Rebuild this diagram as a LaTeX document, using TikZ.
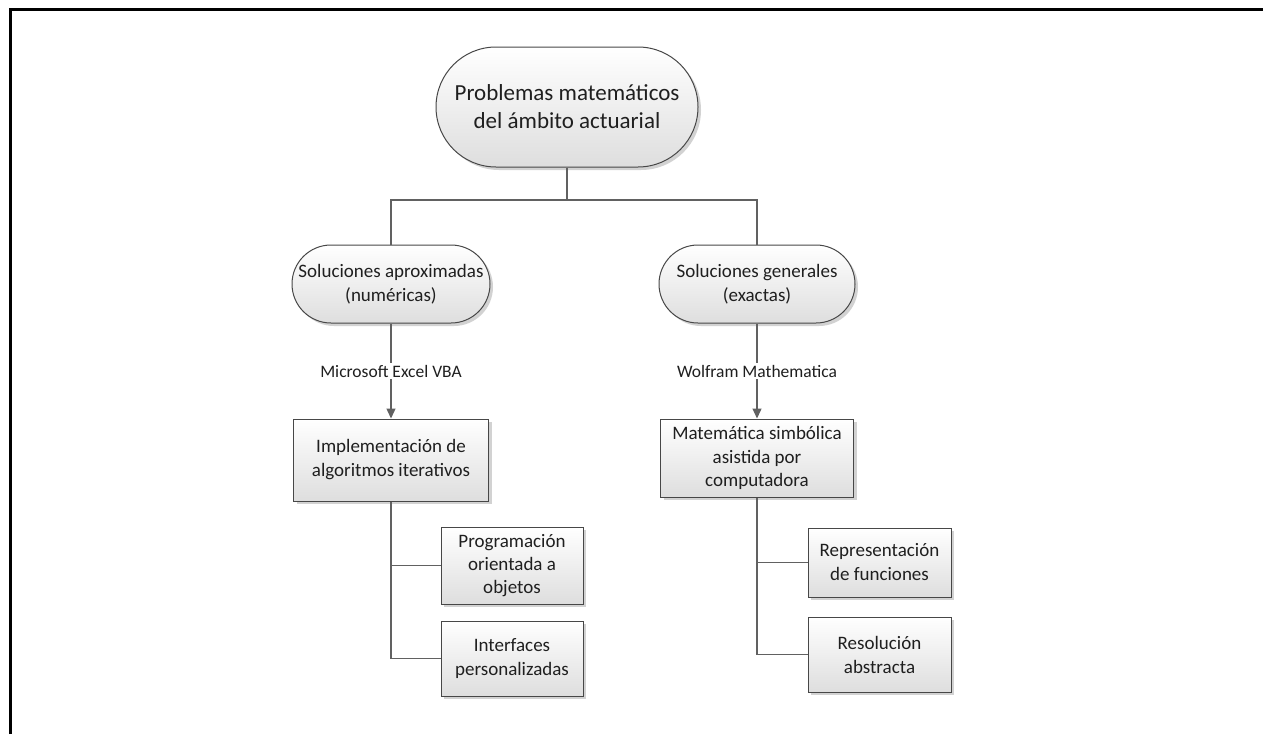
\documentclass[tikz,border=0pt]{standalone}
\usepackage{fontspec}
\setmainfont{Carlito}
\usetikzlibrary{arrows.meta,shadows}

\begin{document}
\begin{tikzpicture}[x=1pt, y=-1pt, line join=miter]
  % sizes are given in pixels of the original sheet
  \tikzset{
    conn/.style={draw=black!62, line width=1.3pt},
    arr/.style={conn, -{Triangle[width=9pt,length=10pt]}},
    base/.style={draw=black!72, line width=1pt, top color=white,
      bottom color=black!13, text=black!88, align=center, inner sep=0pt,
      drop shadow={shadow xshift=3pt, shadow yshift=-3pt,
        fill=black!35, opacity=0.5}},
    term/.style={base, rounded corners=#1},
    proc/.style={base},
    lbl/.style={fill=white, inner sep=2pt, text=black!88,
      font=\fontsize{17.5}{21}\selectfont},
  }
  \useasboundingbox (0,0) rectangle (1263,734);

  % frame of the sheet
  \draw[line width=3pt] (10,734) -- (10,9.5) -- (1263,9.5);

  % top
  \node[term=60pt, minimum width=262pt, minimum height=120pt,
    font=\fontsize{23}{28}\selectfont] (prob) at (567,107)
    {Problemas matemáticos\\del ámbito actuarial};

  % second level
  \node[term=39pt, minimum width=198pt, minimum height=78pt,
    font=\fontsize{19}{24}\selectfont] (aprox) at (391,284)
    {Soluciones aproximadas\\(numéricas)};
  \node[term=39pt, minimum width=196pt, minimum height=78pt,
    font=\fontsize{19}{24}\selectfont] (exact) at (757,284)
    {Soluciones generales\\(exactas)};

  % tools
  \node[proc, minimum width=195pt, minimum height=82pt,
    font=\fontsize{19}{24}\selectfont] (impl) at (391,460)
    {Implementación de\\algoritmos iterativos};
  \node[proc, minimum width=193pt, minimum height=78pt,
    font=\fontsize{19}{23.4}\selectfont] (simb) at (757,458)
    {Matemática simbólica\\asistida por\\computadora};

  % leaves
  \node[proc, minimum width=142pt, minimum height=77pt,
    font=\fontsize{19}{23.4}\selectfont] (prog) at (512,565.5)
    {Programación\\orientada a\\objetos};
  \node[proc, minimum width=142pt, minimum height=75pt,
    font=\fontsize{19}{24}\selectfont] (inter) at (512,658.5)
    {Interfaces\\personalizadas};
  \node[proc, minimum width=143pt, minimum height=69pt,
    font=\fontsize{19}{24}\selectfont] (repr) at (879.5,562.5)
    {Representación\\de funciones};
  \node[proc, minimum width=143pt, minimum height=75pt,
    font=\fontsize{19}{24}\selectfont] (reso) at (879.5,654.5)
    {Resolución\\abstracta};

  \coordinate (bus) at (567,200);

  % connectors
  \draw[conn] (prob.south) -- (bus);
  \draw[conn] (aprox.north) |- (bus) -| (exact.north);
  \draw[arr] (aprox.south) -- node[lbl] {Microsoft Excel VBA} (impl.north);
  \draw[arr] (exact.south) -- node[lbl] {Wolfram Mathematica} (simb.north);
  \draw[conn] (impl.south) |- (prog.west);
  \draw[conn] (impl.south) |- (inter.west);
  \draw[conn] (simb.south) |- (repr.west);
  \draw[conn] (simb.south) |- (reso.west);
\end{tikzpicture}
\end{document}
